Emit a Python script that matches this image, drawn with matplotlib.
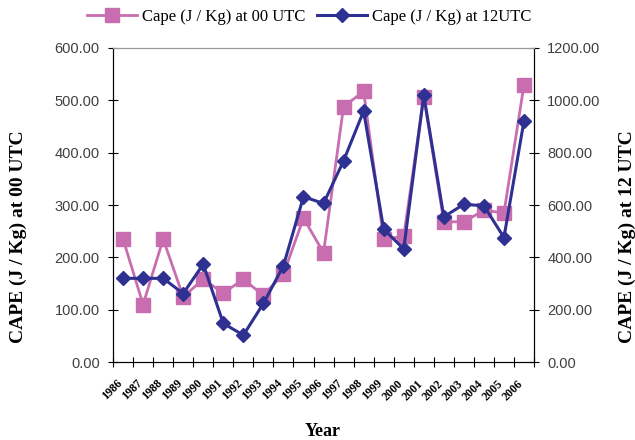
import matplotlib
matplotlib.use("Agg")
import matplotlib.pyplot as plt

years = [str(y) for y in range(1986, 2007)]
cape_00 = [235, 110, 235, 125, 158, 132, 158, 128, 168, 275, 209, 488, 517,
           235, 240, 507, 268, 268, 290, 285, 530]
cape_12 = [320, 320, 320, 262, 374, 148, 103, 224, 368, 632, 606, 769, 959,
           508, 432, 1020, 555, 603, 597, 476, 922]

pink = "#C86EB0"
navy = "#2E3192"
serif = ["Liberation Serif", "DejaVu Serif"]
sans = ["Liberation Sans", "DejaVu Sans"]

fig = plt.figure(figsize=(6.35, 4.4), dpi=100)
ax1 = fig.add_axes([0.178, 0.177, 0.663, 0.714])
ax2 = ax1.twinx()

x = list(range(len(years)))
l1, = ax1.plot(x, cape_00, "-s", color=pink, lw=2.0, markersize=9.5, label="Cape (J / Kg) at 00 UTC")
l2, = ax2.plot(x, cape_12, "-D", color=navy, lw=2.2, markersize=7.5, label="Cape (J / Kg) at 12UTC")

ax1.set_xlim(-0.5, len(years) - 0.5)
ax1.set_ylim(0, 600)
ax2.set_ylim(0, 1200)
ax1.set_yticks(range(0, 601, 100))
ax2.set_yticks(range(0, 1201, 200))
ax1.set_yticklabels([f"{v:.2f}" for v in range(0, 601, 100)], family=sans, fontsize=10.5, color="#404040")
ax2.set_yticklabels([f"{v:.2f}" for v in range(0, 1201, 200)], family=sans, fontsize=10.5, color="#404040")

# tick marks at category boundaries, labels (slightly left of centre, like excel) as minor ticks
ax1.set_xticks([i - 0.5 for i in range(len(years) + 1)], minor=False)
ax1.set_xticklabels([])
ax1.set_xticks([i - 0.35 for i in x], minor=True)
ax1.set_xticklabels(years, minor=True, rotation=45, ha="right", rotation_mode="anchor",
                    family=serif, fontsize=8.5, fontweight="bold")
ax1.tick_params(axis="x", which="minor", length=0, pad=11)
ax1.tick_params(axis="x", which="major", direction="inout", length=7)
ax1.tick_params(axis="y", direction="inout", length=7, pad=6)
ax2.tick_params(axis="y", direction="inout", length=7, pad=6)

for ax in (ax1, ax2):
    ax.spines["top"].set_color("#999999")
    ax.spines["top"].set_linewidth(0.8)

ax1.set_ylabel("CAPE (J / Kg) at 00 UTC", family=serif, fontsize=14, fontweight="bold")
ax2.set_ylabel("CAPE (J / Kg) at 12 UTC", family=serif, fontsize=14, fontweight="bold", rotation=90)
ax1.yaxis.set_label_coords(-0.205, 0.4)
ax2.yaxis.set_label_coords(1.2, 0.4)
ax1.set_xlabel("Year", family=serif, fontsize=13, fontweight="bold")
ax1.xaxis.set_label_coords(0.498, -0.195)

fig.legend(handles=[l1, l2], loc="center", bbox_to_anchor=(0.487, 0.961), ncol=2, frameon=False,
           prop={"family": serif, "size": 12}, handlelength=3, columnspacing=0.7, handletextpad=0.3)

fig.savefig("out.png", dpi=100)
